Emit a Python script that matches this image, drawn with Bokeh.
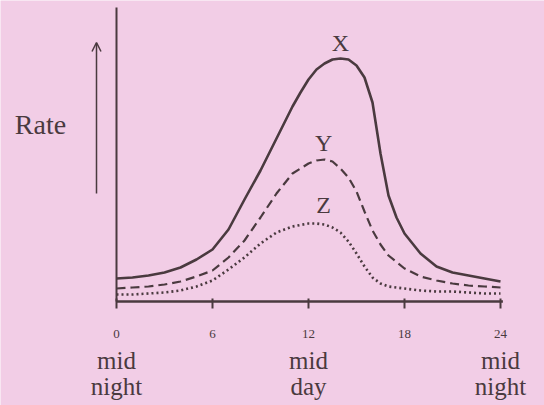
from bokeh.plotting import figure
from bokeh.models import Range1d, Arrow, OpenHead
from bokeh.core.properties import value
from bokeh.embed import file_html
from bokeh.resources import INLINE

# ---- data (rate in arbitrary units) ----
hours_x = [0, 1, 2, 3, 4, 5, 6, 7, 8, 9, 10, 11, 11.5, 12, 12.5, 13, 13.5, 14, 14.5,
           15, 15.5, 16, 16.5, 17, 17.5, 18, 19, 20, 21, 22, 23, 24]
rate_x = [23, 24, 26, 29, 34, 42, 52, 72, 102, 131, 163, 195, 209, 222, 232, 238, 242,
          243, 242, 236, 224, 199, 148, 106, 84, 68, 48, 35, 29, 26, 23, 20]

hours_y = [0, 1, 2, 3, 4, 5, 6, 7, 8, 9, 10, 11, 11.5, 12, 12.5, 13, 13.5, 14, 14.5,
           15, 15.5, 16, 16.5, 17, 18, 19, 20, 21, 22, 23, 24]
rate_y = [13, 14, 15, 17, 20, 25, 31, 44, 61, 84, 108, 128, 133, 138, 141, 142, 140,
          133, 124, 110, 90, 71, 57, 46, 33, 25, 21, 18, 16, 15, 14]

hours_z = [0, 1, 2, 3, 4, 5, 6, 7, 8, 9, 10, 11, 12, 12.5, 13, 13.5, 14, 14.5, 15,
           15.5, 16, 16.5, 17, 18, 19, 20, 21, 22, 23, 24]
rate_z = [7, 7, 8, 9, 11, 15, 21, 32, 44, 58, 69, 75, 78, 78, 77, 74, 69, 60, 48,
          35, 24, 18, 15, 13, 11, 10, 10, 9, 8, 8]

tick_hours = [0, 6, 12, 18, 24]
tick_labels = ["0", "6", "12", "18", "24"]
period_hours = [0, 12, 24]
period_top = ["mid", "mid", "mid"]
period_bottom = ["night", "day", "night"]

series_names = ["X", "Y", "Z"]
name_pos_h = [14.0, 12.95, 12.95]
name_pos_r = [259, 159, 97]

BG = "#F2CDE6"
INK = "#4A3A3F"
SERIF = "Liberation Serif"

p = figure(width=544, height=405, x_range=Range1d(-7.25, 26.75), y_range=Range1d(-104, 301),
           output_backend="svg", toolbar_location=None, min_border=0)
p.background_fill_color = BG
p.border_fill_color = BG
p.outline_line_color = None
p.grid.visible = False
p.xaxis.visible = False
p.yaxis.visible = False

# hand-drawn axes (in data coordinates)
p.segment(x0=[0], y0=[0], x1=[24.15], y1=[0], line_color=INK, line_width=2.5)
p.segment(x0=[0], y0=[0], x1=[0], y1=[294], line_color=INK, line_width=2)
p.segment(x0=tick_hours, y0=[3] * len(tick_hours), x1=tick_hours, y1=[-7] * len(tick_hours),
          line_color=INK, line_width=2)
p.text(x=tick_hours, y=[-32] * len(tick_hours), text=tick_labels, text_font=value(SERIF),
       text_font_size="13px", text_color=INK, text_align="center", text_baseline="middle")

# curves
p.line(hours_x, rate_x, line_color=INK, line_width=2.6, line_join="round")
p.line(hours_y, rate_y, line_color=INK, line_width=2.2, line_dash="9 5")
p.line(hours_z, rate_z, line_color=INK, line_width=2.6, line_dash="2 3")

p.text(x=name_pos_h, y=name_pos_r, text=series_names, text_font=value(SERIF),
       text_font_size="24px", text_color=INK, text_align="center", text_baseline="middle")

# y label and arrow
p.text(x=[-4.75], y=[177], text=["Rate"], text_font=value(SERIF), text_font_size="28px",
       text_color=INK, text_align="center", text_baseline="middle")
p.add_layout(Arrow(x_start=-1.25, y_start=108, x_end=-1.25, y_end=259,
                   line_color=INK, line_width=1.5,
                   end=OpenHead(size=9, line_color=INK, line_width=1.5)))

# period labels
p.text(x=period_hours, y=[-58.5] * 3, text=period_top, text_font=value(SERIF),
       text_font_size="25px", text_color=INK, text_align="center", text_baseline="middle")
p.text(x=period_hours, y=[-84.5] * 3, text=period_bottom, text_font=value(SERIF),
       text_font_size="25px", text_color=INK, text_align="center", text_baseline="middle")

open("out.html", "w").write(file_html(p, INLINE))
